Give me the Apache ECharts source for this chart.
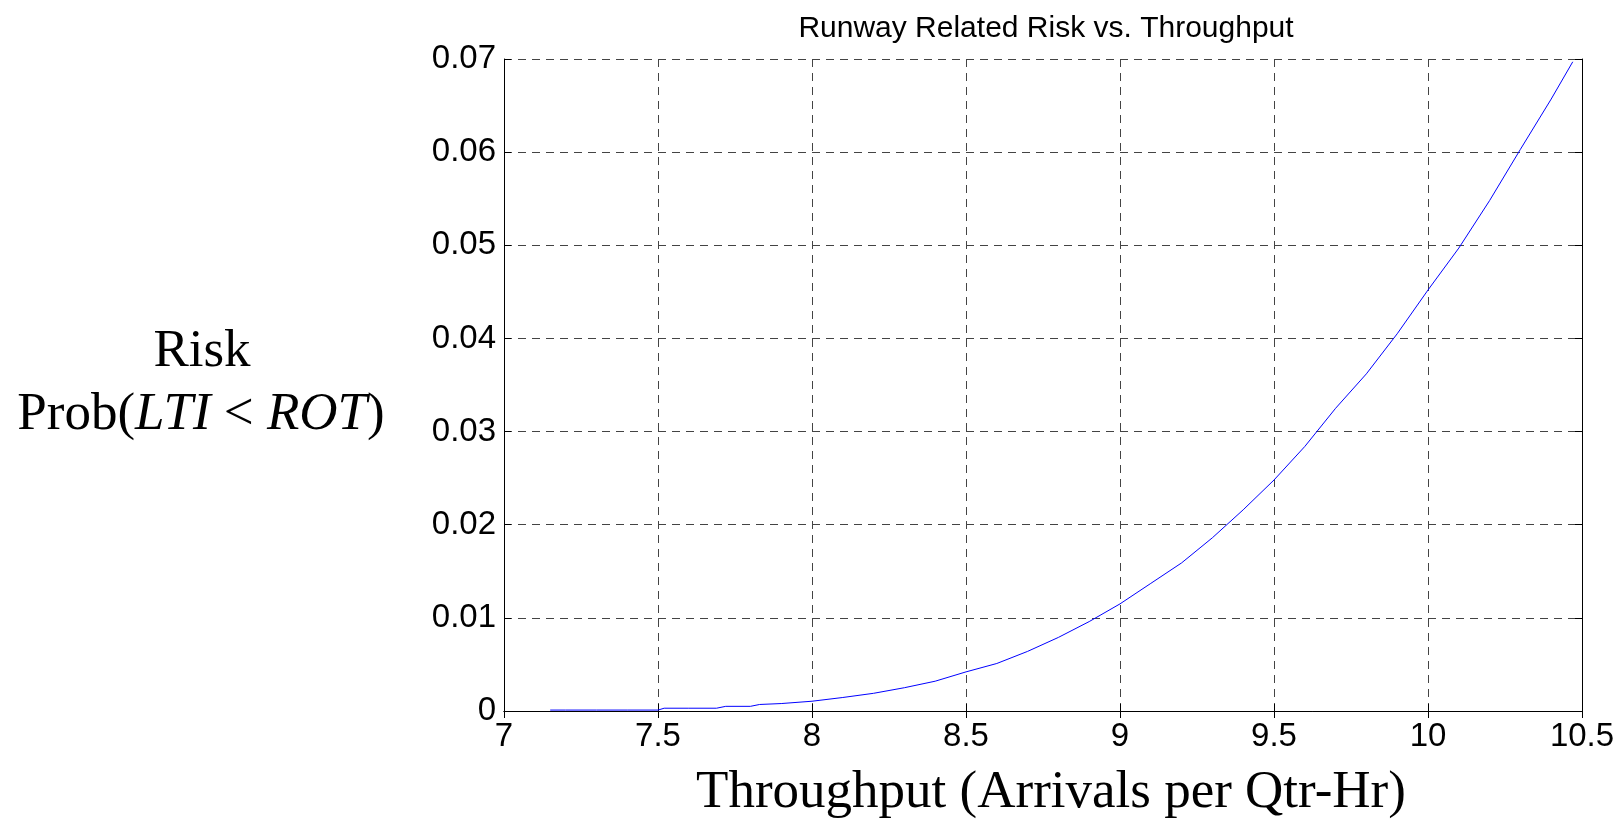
<!DOCTYPE html>
<html>
<head>
<meta charset="utf-8">
<title>Runway Related Risk vs. Throughput</title>
<script src="https://cdn.jsdelivr.net/npm/echarts@6/dist/echarts.min.js"></script>
<style>
  html, body { margin: 0; padding: 0; background: #fff; }
  #chart { width: 1622px; height: 819px; }
</style>
</head>
<body>
<div id="chart"></div>
<script>
// Throughput (arrivals per quarter hour) and the matching runway risk Prob(LTI < ROT)
const throughput = [7.15, 7.2, 7.3, 7.4, 7.5, 7.52, 7.6, 7.69, 7.72, 7.8, 7.83, 7.9,
  8.0, 8.1, 8.2, 8.3, 8.4, 8.5, 8.6, 8.7, 8.8, 8.9, 9.0, 9.1, 9.2, 9.3, 9.4, 9.5,
  9.6, 9.7, 9.8, 9.9, 10.0, 10.1, 10.2, 10.3, 10.4, 10.47];
const risk = [0.0001, 0.0001, 0.0001, 0.0001, 0.0001, 0.0003, 0.0003, 0.0003, 0.0005, 0.0005, 0.0007, 0.0008,
  0.00105, 0.00145, 0.0019, 0.0025, 0.0032, 0.0042, 0.0051, 0.0064, 0.0079, 0.0096, 0.0115, 0.0137, 0.0159, 0.0186, 0.0216, 0.0248,
  0.0284, 0.0325, 0.0362, 0.0405, 0.0452, 0.0497, 0.0548, 0.0603, 0.0657, 0.0697];

// Axis tick positions
const xTickValues = [7, 7.5, 8, 8.5, 9, 9.5, 10, 10.5];
const yTickValues = [0, 0.01, 0.02, 0.03, 0.04, 0.05, 0.06, 0.07];

const sans = '"Liberation Sans", Arial, Helvetica, sans-serif';
const serif = '"Liberation Serif", "Times New Roman", serif';

const xMin = xTickValues[0], xMax = xTickValues[xTickValues.length - 1];
const xStep = xTickValues[1] - xTickValues[0];
const yMin = yTickValues[0], yMax = yTickValues[yTickValues.length - 1];
const yStep = yTickValues[1] - yTickValues[0];

const points = throughput.map((x, i) => [x, risk[i]]);

const tickStyle = { inside: true, length: 7, lineStyle: { color: '#000', width: 1 } };
const lineStyle = { show: true, lineStyle: { color: '#000', width: 1 } };
const gridDash = { show: true, lineStyle: { color: '#444', width: 1, type: [8, 6] } };

const chart = echarts.init(document.getElementById('chart'), null, { renderer: 'canvas' });
chart.setOption({
  animation: false,
  backgroundColor: '#fff',
  title: {
    text: 'Runway Related Risk vs. Throughput',
    left: 1041,
    top: 9,
    textAlign: 'center',
    textStyle: { fontFamily: sans, fontSize: 30, fontWeight: 'normal', color: '#000' }
  },
  grid: { left: 504, top: 59, right: 40, bottom: 108, containLabel: false, outerBoundsMode: 'none' },
  xAxis: [{
    type: 'value', min: xMin, max: xMax, interval: xStep,
    axisLine: lineStyle, axisTick: tickStyle, splitLine: gridDash,
    axisLabel: { color: '#000', fontFamily: sans, fontSize: 33, margin: 9 },
    name: 'Throughput (Arrivals per Qtr-Hr)',
    nameLocation: 'middle', nameGap: 56,
    nameTextStyle: { fontFamily: serif, fontSize: 53, color: '#000', padding: [0, 0, 0, 16] }
  }, {
    type: 'value', position: 'top', min: xMin, max: xMax, interval: xStep,
    axisLine: lineStyle, axisTick: tickStyle, splitLine: { show: false },
    axisLabel: { show: false }
  }],
  yAxis: [{
    type: 'value', min: yMin, max: yMax, interval: yStep,
    axisLine: lineStyle, axisTick: tickStyle, splitLine: gridDash,
    axisLabel: { color: '#000', fontFamily: sans, fontSize: 33, margin: 8 }
  }, {
    type: 'value', position: 'right', min: yMin, max: yMax, interval: yStep,
    axisLine: lineStyle, axisTick: tickStyle, splitLine: { show: false },
    axisLabel: { show: false }
  }],
  series: [{
    type: 'line',
    data: points,
    showSymbol: false,
    smooth: false,
    lineStyle: { color: '#0000ff', width: 1 },
    itemStyle: { color: '#0000ff' }
  }],
  graphic: [{
    type: 'text',
    x: 202, y: 352,
    style: {
      text: 'Risk',
      font: '53px ' + serif,
      align: 'center', verticalAlign: 'middle', fill: '#000'
    }
  }, {
    type: 'text',
    x: 201, y: 415,
    style: {
      text: '{n|Prob(}{i|LTI}{n| < }{i|ROT}{n|)}',
      align: 'center', verticalAlign: 'middle', fill: '#000',
      font: '53px ' + serif,
      rich: {
        n: { fontFamily: serif, fontSize: 53, fill: '#000' },
        i: { fontFamily: serif, fontSize: 53, fontStyle: 'italic', fill: '#000' }
      }
    }
  }]
});
</script>
</body>
</html>
